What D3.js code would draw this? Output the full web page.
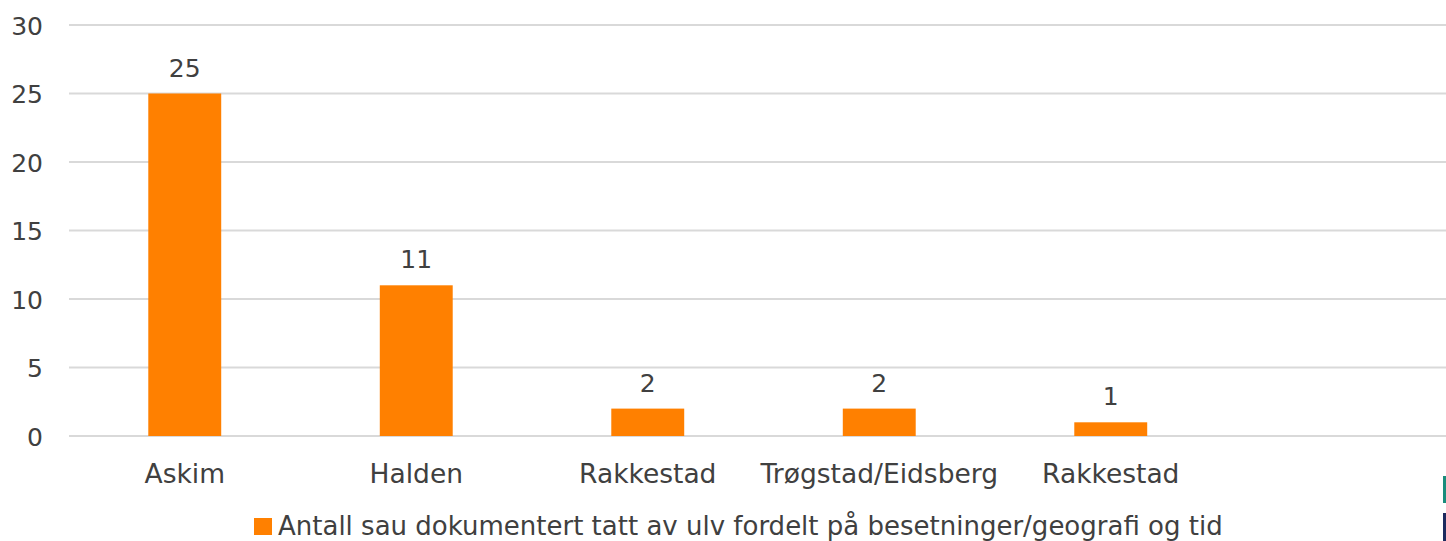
<!DOCTYPE html>
<html>
<head>
<meta charset="utf-8">
<script src="https://cdn.jsdelivr.net/npm/d3@7"></script>
<style>
  body { margin: 0; background: #fff; }
  text { font-family: "DejaVu Sans", sans-serif; fill: #404040; }
</style>
</head>
<body>
<div id="container"></div>
<script>
// values
var categories = ['Askim', 'Halden', 'Rakkestad', 'Trøgstad/Eidsberg', 'Rakkestad'];
var values = [25, 11, 2, 2, 1];
var yTicks = [0, 5, 10, 15, 20, 25, 30];
var seriesName = 'Antall sau dokumentert tatt av ulv fordelt på besetninger/geografi og tid';

var width = 1446, height = 541;
var svg = d3.select('#container')
      .append('svg')
      .attr('width', width)
      .attr('height', height);

// six slots, the last one is left empty like in the source chart
var slots = d3.range(categories.length + 1);
var x = d3.scaleBand()
      .domain(slots)
      .range([69, 1458])
      .paddingInner(0.685)
      .paddingOuter(0.3425);
var y = d3.scaleLinear()
      .domain([0, 30])
      .range([436, 25]);

// gridlines
svg.append('g')
  .selectAll('line')
  .data(yTicks)
  .enter()
  .append('line')
  .attr('x1', 69)
  .attr('x2', width)
  .attr('y1', function(d) { return y(d); })
  .attr('y2', function(d) { return y(d); })
  .style('stroke', '#d9d9d9')
  .style('stroke-width', 2);

// y axis labels
var yAxis = svg.append('g')
  .attr('transform', 'translate(43,0)')
  .call(d3.axisLeft(y).tickValues(yTicks).tickSize(0).tickPadding(0));
yAxis.select('.domain').remove();
yAxis.selectAll('text')
  .style('font-size', '25px')
  .attr('dy', '0.36em');

// bars
svg.append('g')
  .selectAll('rect')
  .data(values)
  .enter()
  .append('rect')
  .attr('x', function(d, i) { return x(i); })
  .attr('width', x.bandwidth())
  .attr('y', function(d) { return y(d); })
  .attr('height', function(d) { return y(0) - y(d); })
  .style('fill', '#ff8000');

// value labels
svg.append('g')
  .selectAll('text')
  .data(values)
  .enter()
  .append('text')
  .attr('x', function(d, i) { return x(i) + x.bandwidth() / 2; })
  .attr('y', function(d) { return y(d) - 17; })
  .attr('text-anchor', 'middle')
  .style('font-size', '25px')
  .text(function(d) { return d; });

// category labels
var xAxis = svg.append('g')
  .attr('transform', 'translate(0,436)')
  .call(d3.axisBottom(x).tickSize(0).tickPadding(0)
    .tickFormat(function(i) { return categories[i] || ''; }));
xAxis.select('.domain').remove();
xAxis.selectAll('text')
  .style('font-size', '26.5px')
  .attr('dy', null)
  .attr('y', 47);

// legend
var legend = svg.append('g').attr('transform', 'translate(254,518)');
legend.append('rect')
  .attr('width', 18)
  .attr('height', 17)
  .style('fill', '#ff8000');
legend.append('text')
  .attr('x', 24)
  .attr('y', 17)
  .style('font-size', '26px')
  .text(seriesName);

// clipped marks at the right edge
svg.append('rect').attr('x', 1443).attr('y', 476).attr('width', 3).attr('height', 27).style('fill', '#1a8c7c');
svg.append('rect').attr('x', 1443).attr('y', 513).attr('width', 3).attr('height', 28).style('fill', '#1c2a5e');
</script>
</body>
</html>
